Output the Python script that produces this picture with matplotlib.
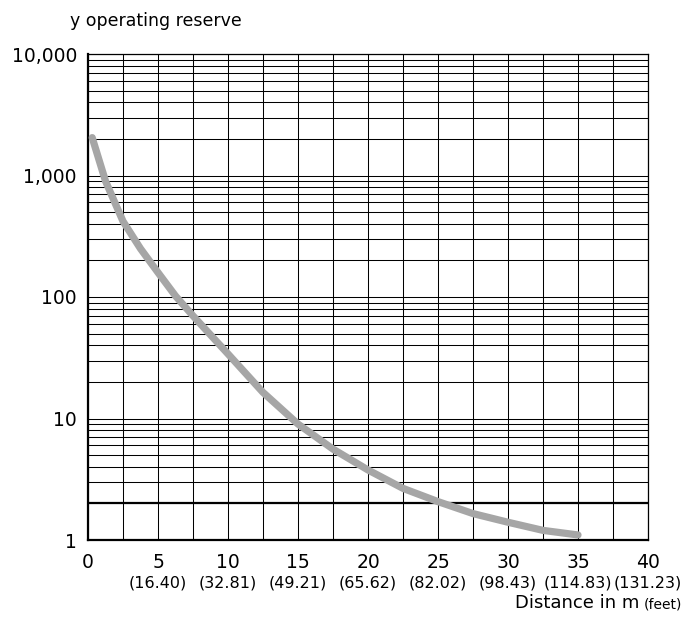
"""Operating reserve vs. distance, log-scale grid chart."""

import matplotlib

matplotlib.use("Agg")
import matplotlib.pyplot as plt
from matplotlib.ticker import FixedLocator, LogLocator, NullFormatter

plt.rcParams["font.family"] = ["DejaVu Sans"]

# values
distance_m = [0.3, 1.25, 2.5, 3.75, 5, 6.25, 7.5, 10, 12.5, 15, 17.5, 20, 22.5, 25, 27.5, 30, 32.5, 35]
reserve = [2050, 900, 420, 250, 159, 102, 70, 34, 16.4, 9.0, 5.6, 3.77, 2.66, 2.07, 1.65, 1.4, 1.2, 1.1]

x_ticks = [0, 5, 10, 15, 20, 25, 30, 35, 40]
x_feet = ["", "(16.40)", "(32.81)", "(49.21)", "(65.62)", "(82.02)", "(98.43)", "(114.83)", "(131.23)"]
x_grid = [i * 2.5 for i in range(17)]
y_ticks = [1, 10, 100, 1000, 10000]
y_labels = ["1", "10", "100", "1,000", "10,000"]
min_reserve = 2


def main() -> None:
    fig = plt.figure(figsize=(6.83, 6.27), dpi=100)
    ax = fig.add_axes([88 / 683, 1 - 540 / 627, 560 / 683, 486 / 627])

    ax.set_yscale("log")
    ax.set_xlim(0, 40)
    ax.set_ylim(1, 10000)

    # grid
    ax.xaxis.set_minor_locator(FixedLocator(x_grid))
    ax.yaxis.set_minor_locator(LogLocator(base=10, subs=range(2, 10)))
    ax.yaxis.set_minor_formatter(NullFormatter())
    ax.grid(True, which="both", color="black", linewidth=0.75)
    ax.axhline(min_reserve, color="black", linewidth=1.6, zorder=2)

    ax.plot(
        distance_m,
        reserve,
        color="#a6a6a6",
        linewidth=5.2,
        solid_capstyle="round",
        solid_joinstyle="round",
        zorder=3,
    )

    for side in ["left", "bottom"]:
        ax.spines[side].set_linewidth(1.6)
    for side in ["top", "right"]:
        ax.spines[side].set_linewidth(0.9)

    ax.set_xticks(x_ticks)
    ax.set_xticklabels([str(t) for t in x_ticks], fontsize=13.5)
    ax.set_yticks(y_ticks)
    ax.set_yticklabels(y_labels, fontsize=13.5)
    ax.tick_params(axis="both", which="both", length=0)
    ax.tick_params(axis="x", pad=9)
    ax.tick_params(axis="y", pad=8)

    for x, lab in zip(x_ticks, x_feet):
        ax.annotate(
            lab,
            xy=(x, 0),
            xycoords=("data", "axes fraction"),
            xytext=(0, -31),
            textcoords="offset points",
            ha="center",
            va="center",
            fontsize=11.5,
        )

    fig.text(70 / 683, 1 - 21 / 627, "y operating reserve", fontsize=12.5, va="center", ha="left")
    fig.text(515 / 683, 1 - 603 / 627, "Distance in m", fontsize=13, va="center", ha="left")
    fig.text(682 / 683, 1 - 604 / 627, "(feet)", fontsize=10, va="center", ha="right")

    fig.savefig("out.png", dpi=100)


if __name__ == "__main__":
    main()
